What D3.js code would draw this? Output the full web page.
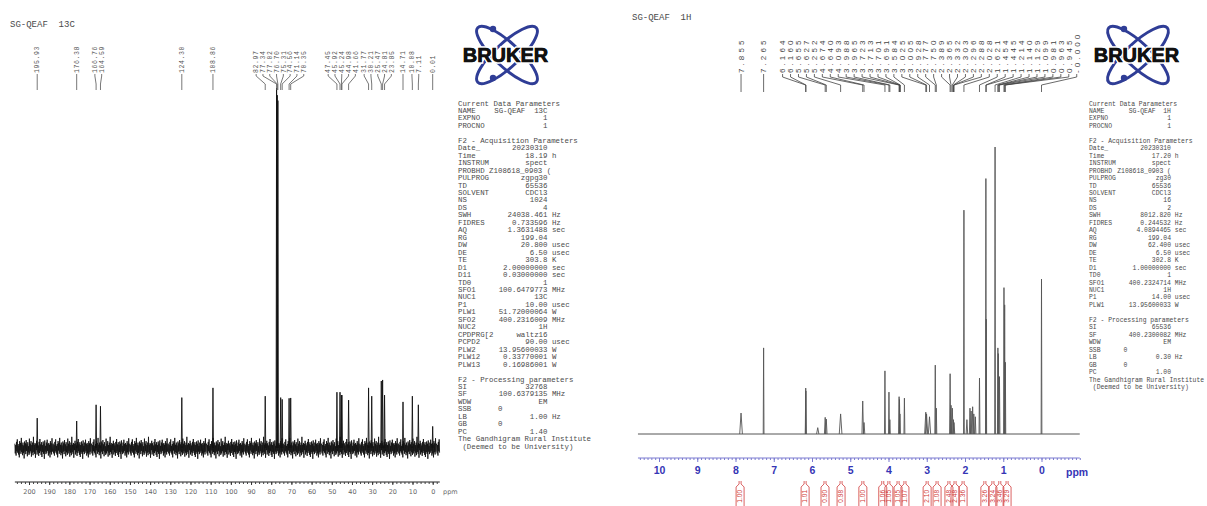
<!DOCTYPE html>
<html lang="en">
<head>
<meta charset="UTF-8">
<title>SG-QEAF 13C / 1H</title>
<style>
  body { margin: 0; padding: 0; background: #fff; overflow: hidden; }
  svg text { font-family: "Liberation Mono", monospace; }
</style>
</head>
<body>
<svg id="chart" width="1207" height="506"></svg>
<script src="https://d3js.org/d3.v7.min.js"></script>
<script>
// ---------------- 13C spectrum data ----------------
const cTitle = "SG-QEAF  13C";
// [ppm, relative height] (solvent line = 100)
const cPeaks = [
  [195.93, 8.3], [176.38, 7.5], [166.76, 12], [164.59, 11.6], [124.30, 14],
  [108.86, 16.7], [82.97, 14.4], [77.34, 100], [77.02, 98], [76.70, 96.5],
  [75.31, 14], [74.56, 13.5], [71.14, 13.8], [70.35, 13.9],
  [47.45, 15.5], [45.92, 15.5], [45.24, 14.7], [44.98, 14.7], [41.66, 13.3],
  [31.77, 16.7], [30.21, 14.4], [25.47, 18.6], [24.81, 18.9], [23.85, 14.7],
  [14.71, 12.8], [10.08, 14.4], [7.11, 12], [0.01, 6]
];
const cLabels = ["195.93", "176.38", "166.76", "164.59", "124.30", "108.86",
  "82.97", "77.34", "77.02", "76.70", "75.31", "74.56", "71.14", "70.35",
  "47.45", "45.92", "45.24", "44.98", "41.66",
  "31.77", "30.21", "25.47", "24.81", "23.85",
  "14.71", "10.08", "7.11", "0.01"];
// baseline noise (relative units), repeated along the axis
const cNoise = [1.2, -1.5, 0.8, -2.1, 1.7, -0.9, 2.4, -1.3, 0.6, -1.8, 1.1, -2.6, 1.9, -0.7, 1.4, -1.6,
  2.8, -1.1, 0.9, -2.0, 1.5, -1.4, 0.7, -2.9, 1.8, -1.0, 1.3, -1.7, 2.2, -0.8, 1.0, -2.3, 1.6, -1.2,
  0.5, -1.9, 2.6, -1.5, 1.2, -0.9, 1.9, -2.4, 0.8, -1.3, 1.5, -2.0, 3.1, -1.1, 0.9, -1.6, 1.4, -2.7,
  1.1, -0.6, 2.0, -1.8, 1.3, -1.2, 0.7, -2.2, 1.7, -1.4, 2.5, -0.9, 1.0, -1.9, 1.6, -2.5, 0.8, -1.1,
  1.8, -1.6, 1.2, -3.0, 2.1, -1.0, 0.6, -1.7, 1.5, -1.3, 2.3, -0.8, 1.1, -2.1, 1.4, -1.5, 0.9, -2.6,
  1.9, -1.2, 1.3, -1.8, 2.7, -1.0, 0.8];
const cRange = [207, -3.5];
const cTickLabels = [200, 190, 180, 170, 160, 150, 140, 130, 120, 110, 100, 90, 80, 70, 60, 50, 40, 30, 20, 10, 0];

// ---------------- 1H spectrum data ----------------
const hTitle = "SG-QEAF  1H";
// [ppm, relative height, half width ppm]
const hPeaks = [
  [7.855, 7.3, 0.035], [7.265, 30, 0.01], [6.164, 16, 0.012], [6.160, 15, 0.012],
  [5.85, 2.2, 0.03], [5.655, 5.8, 0.02], [5.627, 5.2, 0.02], [5.252, 7, 0.035],
  [4.674, 11.5, 0.02], [4.640, 4, 0.02], [4.093, 22, 0.012], [3.988, 14.6, 0.012], [3.965, 5, 0.012],
  [3.723, 13, 0.012], [3.713, 12, 0.012], [3.701, 7, 0.012], [3.584, 12.5, 0.012],
  [3.025, 7.6, 0.03], [3.005, 7, 0.03], [2.928, 6, 0.03],
  [2.777, 24, 0.012], [2.750, 9, 0.012],
  [2.389, 21, 0.015], [2.365, 10, 0.015], [2.332, 9, 0.02], [2.303, 5, 0.02], [2.288, 4, 0.02],
  [2.028, 78, 0.01], [1.95, 5, 0.02], [1.87, 9, 0.015], [1.84, 8, 0.015], [1.80, 9.5, 0.015],
  [1.77, 7, 0.015], [1.73, 6, 0.015],
  [1.621, 19.5, 0.012], [1.454, 89, 0.01], [1.445, 40, 0.01],
  [1.214, 100, 0.01], [1.140, 30, 0.012], [1.129, 28, 0.012], [1.099, 20, 0.012],
  [0.981, 51, 0.01], [0.963, 45, 0.01], [0.945, 25, 0.01], [0.000, 54, 0.01]
];
const hLabels = ["7.855", "7.265", "6.164", "6.160", "5.655", "5.627", "5.252", "4.674", "4.640",
  "4.093", "3.988", "3.965", "3.723", "3.713", "3.701", "3.691", "3.584", "3.025", "3.005", "2.928",
  "2.777", "2.750", "2.389", "2.365", "2.332", "2.303", "2.296", "2.288", "2.028", "1.621", "1.454",
  "1.445", "1.214", "1.140", "1.129", "1.099", "0.981", "0.963", "0.945", "-0.000"];
// [ppm, integral]
const hIntegrals = [
  [7.88, "1.00"], [6.18, "1.01"], [5.66, "0.90"], [5.24, "0.98"], [4.67, "1.00"],
  [4.15, "1.06"], [3.99, "1.05"], [3.75, "1.05"], [3.57, "1.07"], [2.99, "2.10"],
  [2.73, "1.08"], [2.42, "2.48"], [2.26, "2.48"], [2.05, "1.36"], [1.48, "3.26"],
  [1.27, "3.24"], [1.09, "3.46"], [0.90, "3.29"]
];
const hRange = [10.55, -1.0];
const hTickLabels = [10, 9, 8, 7, 6, 5, 4, 3, 2, 1, 0];

// ---------------- parameter listings ----------------
const cParams = [
  ["Current Data Parameters"], ["NAME", "SG-QEAF  13C"], ["EXPNO", "1"], ["PROCNO", "1"], [],
  ["F2 - Acquisition Parameters"], ["Date_", "20230310"], ["Time", "18.19", "h"],
  ["INSTRUM", "spect"], ["PROBHD", "Z108618_0903 ("], ["PULPROG", "zgpg30"], ["TD", "65536"],
  ["SOLVENT", "CDCl3"], ["NS", "1024"], ["DS", "4"], ["SWH", "24038.461", "Hz"],
  ["FIDRES", "0.733596", "Hz"], ["AQ", "1.3631488", "sec"], ["RG", "199.04"],
  ["DW", "20.800", "usec"], ["DE", "6.50", "usec"], ["TE", "303.8", "K"],
  ["D1", "2.00000000", "sec"], ["D11", "0.03000000", "sec"], ["TD0", "1"],
  ["SFO1", "100.6479773", "MHz"], ["NUC1", "13C"], ["P1", "10.00", "usec"],
  ["PLW1", "51.72000064", "W"], ["SFO2", "400.2316009", "MHz"], ["NUC2", "1H"],
  ["CPDPRG[2", "waltz16"], ["PCPD2", "90.00", "usec"], ["PLW2", "13.95600033", "W"],
  ["PLW12", "0.33770001", "W"], ["PLW13", "0.16986001", "W"], [],
  ["F2 - Processing parameters"], ["SI", "32768"], ["SF", "100.6379135", "MHz"],
  ["WDW", "EM"], ["SSB", "0"], ["LB", "1.00", "Hz"], ["GB", "0"], ["PC", "1.40"],
  ["The Gandhigram Rural Institute"], [" (Deemed to be University)"]
];
const hParams = [
  ["Current Data Parameters"], ["NAME", "SG-QEAF  1H"], ["EXPNO", "1"], ["PROCNO", "1"], [],
  ["F2 - Acquisition Parameters"], ["Date_", "20230310"], ["Time", "17.20", "h"],
  ["INSTRUM", "spect"], ["PROBHD", "Z108618_0903 ("], ["PULPROG", "zg30"], ["TD", "65536"],
  ["SOLVENT", "CDCl3"], ["NS", "16"], ["DS", "2"], ["SWH", "8012.820", "Hz"],
  ["FIDRES", "0.244532", "Hz"], ["AQ", "4.0894465", "sec"], ["RG", "199.04"],
  ["DW", "62.400", "usec"], ["DE", "6.50", "usec"], ["TE", "302.8", "K"],
  ["D1", "1.00000000", "sec"], ["TD0", "1"], ["SFO1", "400.2324714", "MHz"],
  ["NUC1", "1H"], ["P1", "14.00", "usec"], ["PLW1", "13.95600033", "W"], [],
  ["F2 - Processing parameters"], ["SI", "65536"], ["SF", "400.2300082", "MHz"],
  ["WDW", "EM"], ["SSB", "0"], ["LB", "0.30", "Hz"], ["GB", "0"], ["PC", "1.00"],
  ["The Gandhigram Rural Institute"], [" (Deemed to be University)"]
];
const shortCol = ["SSB", "GB"];

// ---------------- drawing ----------------
const svg = d3.select("#chart");
const INK = "#4a4a4a";

const cx = d3.scaleLinear().domain([200, 0]).range([29, 432.7]);
const cy = d3.scaleLinear().domain([0, 100]).range([448, 88]);
const hx = d3.scaleLinear().domain([10, 0]).range([659, 1041.5]);
const hy = d3.scaleLinear().domain([0, 100]).range([434, 147]);

// spread crowded peak labels into evenly spaced clusters
function spread(xs, gap) {
  const out = [];
  const start = c => d3.mean(c) - (c.length - 1) * gap / 2;
  xs.forEach(x => {
    out.push([x]);
    while (out.length > 1) {
      const a = out[out.length - 2], b = out[out.length - 1];
      if (start(b) - (start(a) + (a.length - 1) * gap) < gap) {
        out.splice(out.length - 2, 2, a.concat(b));
      } else break;
    }
  });
  return out.flatMap(c => c.map((_, k) => start(c) + k * gap));
}

function drawPeakLabels(labels, xScale, gap, opts) {
  const xs = labels.map(l => xScale(parseFloat(l)));
  const order = d3.range(xs.length).sort((a, b) => xs[a] - xs[b]);
  const slots = spread(order.map(i => xs[i]), gap);
  const g = svg.append("g");
  order.forEach((i, k) => {
    const lx = slots[k], px = xs[i];
    g.append("path")
      .attr("d", `M${lx},${opts.y0}L${lx},${opts.y1}L${px},${opts.y2}L${px},${opts.y3}`)
      .attr("fill", "none").attr("stroke", opts.color).attr("stroke-width", 0.8);
    g.append("text")
      .attr("transform", `translate(${lx},${opts.y0 - 1}) rotate(-90)`)
      .attr("dy", "0.35em")
      .attr("text-anchor", "start")
      .attr("font-size", opts.size)
      .attr("letter-spacing", opts.spacing)
      .style("font-family", opts.font)
      .attr("fill", opts.color)
      .text(labels[i]);
  });
}

// label at x0, value right-aligned at xv, unit after it
function drawParams(rows, x0, xv, y0, size) {
  const g = svg.append("g").attr("font-size", size).attr("fill", INK);
  const cw = size * 0.6;
  rows.forEach((row, i) => {
    const y = y0 + i * 7.46;
    if (row.length === 0) return;
    const [label, value, unit] = row;
    g.append("text").attr("x", x0).attr("y", y).style("white-space", "pre").text(label);
    if (value === undefined) return;
    let vx;
    if (shortCol.includes(label)) vx = x0 + 9 * cw;
    else vx = Math.max(xv - value.length * cw, x0 + (label.length + 1) * cw);
    g.append("text").attr("x", vx).attr("y", y).style("white-space", "pre").text(value);
    if (unit) g.append("text").attr("x", xv + cw).attr("y", y).text(unit);
  });
}

function drawLogo(x, y) {
  const lg = svg.append("g").attr("transform", `translate(${x},${y})`);
  [-43, 43].forEach(a => {
    lg.append("ellipse").attr("rx", 40).attr("ry", 12)
      .attr("transform", `rotate(${a})`)
      .attr("fill", "none").attr("stroke", "#2f3d96").attr("stroke-width", 3);
  });
  [[-14, -26], [-14, 23]].forEach(d => {
    lg.append("circle").attr("cx", d[0]).attr("cy", d[1]).attr("r", 3.2).attr("fill", "#2f3d96");
  });
  lg.append("text")
    .attr("x", -1.5).attr("y", 7)
    .attr("text-anchor", "middle")
    .style("font-family", "'Liberation Sans', Arial, sans-serif")
    .attr("font-weight", "bold")
    .attr("font-size", 20)
    .attr("fill", "#111")
    .attr("stroke", "#fff").attr("stroke-width", 3.5)
    .attr("paint-order", "stroke")
    .text("BRUKER");
  lg.append("text")
    .attr("x", -1.5).attr("y", 7)
    .attr("text-anchor", "middle")
    .style("font-family", "'Liberation Sans', Arial, sans-serif")
    .attr("font-weight", "bold")
    .attr("font-size", 20)
    .attr("fill", "#111")
    .attr("stroke", "#111").attr("stroke-width", 0.6)
    .text("BRUKER");
}

// ---- 13C panel ----
svg.append("text").attr("x", 10).attr("y", 27).attr("font-size", 9).attr("fill", INK)
  .style("white-space", "pre").text(cTitle);

const noisePts = [];
for (let k = 0, p = cRange[0]; p >= cRange[1]; p -= 0.2, k++) {
  noisePts.push([p, cNoise[k % cNoise.length]]);
}
svg.append("path")
  .attr("d", d3.line().x(d => cx(d[0])).y(d => cy(d[1]))(noisePts))
  .attr("fill", "none").attr("stroke", "#111").attr("stroke-width", 0.85);

svg.append("g").selectAll("path").data(cPeaks).join("path")
  .attr("d", d => d3.line().x(p => cx(p[0])).y(p => cy(p[1]))([[d[0] + 0.25, 0], [d[0], d[1]], [d[0] - 0.25, 0]]))
  .attr("fill", "none").attr("stroke", "#111").attr("stroke-width", 0.9);

drawPeakLabels(cLabels, cx, 6.8, { y0: 74, y1: 76, y2: 84, y3: 90, size: 6.5, spacing: 0.6, color: "#555", font: "'Liberation Mono', monospace" });

const cAxisY = 482;
svg.append("line").attr("x1", cx(cRange[0])).attr("x2", cx(cRange[1]))
  .attr("y1", cAxisY).attr("y2", cAxisY).attr("stroke", "#222").attr("stroke-width", 1);
svg.append("g").attr("transform", `translate(0,${cAxisY})`)
  .call(d3.axisBottom(cx).tickValues(d3.range(-2, 207, 2)).tickSize(2).tickFormat(""))
  .call(g => g.select(".domain").remove())
  .call(g => g.selectAll("line").attr("stroke", "#444"));
svg.append("g").attr("transform", `translate(0,${cAxisY})`)
  .call(d3.axisBottom(cx).tickValues(cTickLabels).tickSize(3).tickPadding(4))
  .call(g => g.select(".domain").remove())
  .call(g => g.selectAll("line").attr("stroke", "#333"))
  .call(g => g.selectAll("text").attr("font-size", 6.5).attr("fill", "#666")
    .style("font-family", "'DejaVu Sans', sans-serif"));
svg.append("text").attr("x", 443).attr("y", 494).attr("font-size", 6.5).attr("fill", "#666")
  .style("font-family", "'DejaVu Sans', sans-serif").text("ppm");

drawParams(cParams, 458, 547.5, 105.5, 7.4);
drawLogo(507, 55);

// ---- 1H panel ----
svg.append("text").attr("x", 632).attr("y", 20).attr("font-size", 9).attr("fill", INK)
  .style("white-space", "pre").text(hTitle);

svg.append("path")
  .attr("d", d3.line().x(d => hx(d[0])).y(d => hy(d[1]))([[hRange[0], 0], [hRange[1], 0]]))
  .attr("stroke", "#555").attr("stroke-width", 1);
svg.append("g").selectAll("path").data(hPeaks).join("path")
  .attr("d", d => d3.line().x(p => hx(p[0])).y(p => hy(p[1]))([[d[0] + d[2], 0], [d[0], d[1]], [d[0] - d[2], 0]]))
  .attr("fill", "none").attr("stroke", "#555").attr("stroke-width", 0.9);

drawPeakLabels(hLabels, hx, 7.95, { y0: 74, y1: 77, y2: 85, y3: 92, size: 8, spacing: 3.1, color: "#444", font: "'Liberation Sans', sans-serif" });

const hAxisY = 458;
const BLUE = "#3535b5";
svg.append("line").attr("x1", hx(hRange[0])).attr("x2", hx(hRange[1]))
  .attr("y1", hAxisY).attr("y2", hAxisY).attr("stroke", "#7a7ad0").attr("stroke-width", 1);
svg.append("g").attr("transform", `translate(0,${hAxisY})`)
  .call(d3.axisBottom(hx).tickValues(d3.range(-10, 106).map(v => v / 10)).tickSize(2).tickFormat(""))
  .call(g => g.select(".domain").remove())
  .call(g => g.selectAll("line").attr("stroke", "#7a7ad0"));
svg.append("g").attr("transform", `translate(0,${hAxisY})`)
  .call(d3.axisBottom(hx).tickValues(hTickLabels).tickSize(4).tickPadding(5))
  .call(g => g.select(".domain").remove())
  .call(g => g.selectAll("line").attr("stroke", "#7a7ad0"))
  .call(g => g.selectAll("text").attr("font-size", 10.5).attr("font-weight", "bold").attr("fill", BLUE)
    .style("font-family", "'Liberation Sans', sans-serif"));
svg.append("text").attr("x", 1066).attr("y", 476).attr("font-size", 10.5).attr("font-weight", "bold")
  .attr("fill", BLUE).style("font-family", "'Liberation Sans', sans-serif").text("ppm");

// integral marks
const RED = "#d03a3a";
const ig = svg.append("g");
hIntegrals.forEach(d => {
  const x = hx(d[0]);
  ig.append("path")
    .attr("d", `M${x - 1},481L${x - 1},484L${x - 4},487L${x - 4},507M${x + 1},481L${x + 1},484L${x + 4},487L${x + 4},507`)
    .attr("fill", "none").attr("stroke", RED).attr("stroke-width", 0.8);
  ig.append("text")
    .attr("transform", `translate(${x},490) rotate(-90)`)
    .attr("dy", "0.35em")
    .attr("text-anchor", "end")
    .attr("font-size", 6.5)
    .style("font-family", "'Liberation Sans', sans-serif")
    .attr("fill", RED)
    .text(d[1]);
});

drawParams(hParams, 1089, 1171, 105.5, 6.4);
drawLogo(1138, 55);
</script>
</body>
</html>
